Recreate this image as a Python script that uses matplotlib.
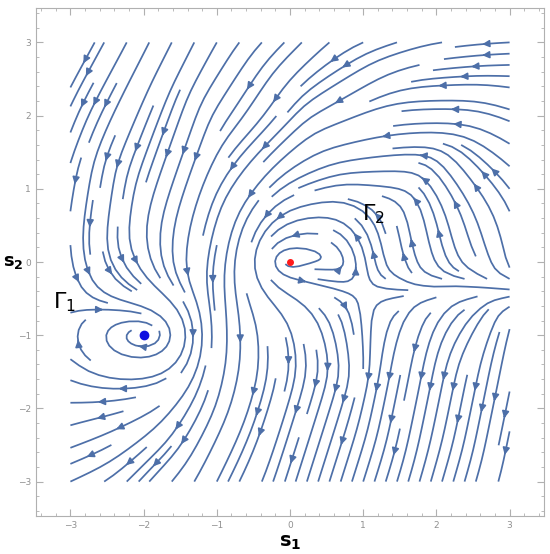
import numpy as np
import matplotlib.pyplot as plt
from matplotlib.ticker import MultipleLocator

# fixed points: unstable focus (red), saddle, stable focus (blue)
eq_s1 = [0.0, 1.0, -2.0]
eq_s2 = [0.0, -0.4, -1.0]
eq_jac = [
    [[0.12, -1.2], [0.5, 0.12]],
    [[-1.0, 0.0], [0.0, 1.2]],
    [[-0.1, 1.2], [-0.5, -0.1]],
]
eq_rad = [0.35, 0.25, 0.5]

# flow directions: position (s1, s2), direction (d1, d2)
smp_s1 = [
    # upper left and top
    -2.8, -2.65, -2.11, -2.71, -2.84, -1.65, -1.6, -1.6, -0.32, -1.46,
    -0.78, -1.68, -0.6, 0.88, 2.27, 2.27, 1.55, 1.07,
    # right
    2.96, 2.96, 2.73, 1.95, 1.41, 1.73, 2.87, 2.18,
    # middle
    -0.78, -0.78, -0.1, 0.82, -2.59, -2.14, -2.59, -1.68,
    # bottom
    -2.8, -2.64, -2.64, -2.18, -1.5, -1.95, -0.82, -0.37, 0.18, 1.54, 2.69, 1.09,
    -2.9, -2.0, -1.0, 0.5, 2.2,
    # in between
    1.2, 0.3, 2.2, 2.2, 1.6, 2.5, 2.5, 1.6, 0.5, 0.2, -0.3, -1.0, -1.2, -0.8, -1.2, -0.6,
    -3.0, -3.0, -2.2, 3.0, 3.0, 2.9, 2.9, 0.0, -3.0, 0.0, 1.5,
    # loop round the red point
    0.3, -0.25, -0.45, -0.3, 0.3, 1.1, 0.85,
    # loop round the blue point
    -2.2, -2.75, -2.93, -2.7, -2.2, -1.7, -1.5, -1.7,
]
smp_s2 = [
    2.67, 2.37, 1.94, 0.8, 0.12, 2.85, 1.49, 0.12, 1.48, 0.8,
    0.34, 1.7, 2.38, 2.42, 2.81, 2.14, 1.8, 1.66,
    0.03, 0.44, 0.98, 0.2, 0.2, -0.93, -0.84, -0.55,
    0.16, -0.75, -0.52, -0.75, 0.67, -0.25, -0.38, -0.47,
    -1.57, -2.56, -2.06, -1.75, -2.16, -2.84, -2.39, -1.93, -1.93, -2.16, -2.16, -2.84,
    -3.0, -3.0, -3.0, -3.0, -3.0,
    1.2, 1.0, 1.0, 0.5, -0.2, -0.2, -0.6, -0.6, -0.55, -1.0, -1.2, -1.6, -1.0, -0.2, 0.3, 1.0,
    -0.3, -2.5, -2.4, -2.0, 2.8, 2.0, 1.5, -2.5, 1.8, 3.0, 3.0,
    0.55, 0.42, 0.05, -0.28, -0.36, 0.05, 0.45,
    -0.63, -0.75, -1.05, -1.35, -1.47, -1.35, -1.05, -0.72,
]
smp_d1 = [
    -0.48, -0.48, -0.41, -0.2, 0.03, -0.45, -0.33, 0.0, -0.71, -0.32,
    -0.45, -0.32, -0.54, -0.85, -0.99, -1.0, -1.0, -0.96,
    -0.05, -0.3, -0.6, -0.15, -0.1, -0.15, -0.15, -0.6,
    -0.1, 0.0, 0.7, 0.05, -0.1, 0.4, 0.5, 0.5,
    -1.0, -0.9, -0.98, -0.98, -0.5, -0.75, -0.42, -0.29, -0.3, -0.2, -0.2, -0.3,
    -0.89, -0.55, -0.45, -0.3, -0.28,
    -1.0, -0.9, -0.6, -0.2, -0.5, -0.6, -0.6, -0.5, 0.5, 0.15, 0.0, -0.2, 0.05, -0.05, -0.2, -0.55,
    0.2, -0.95, -0.8, -0.2, -1.0, -0.95, -0.8, -0.3, -0.35, -0.7, -0.95,
    -1.0, -0.75, 0.0, 0.75, 1.0, 0.0, -0.75,
    1.0, 0.8, 0.05, -0.8, -1.0, -0.8, -0.05, 0.8,
]
smp_d2 = [
    -0.88, -0.88, -0.91, -0.98, -1.0, -0.89, -0.94, -1.0, -0.71, -0.95,
    -0.89, -0.95, -0.84, -0.53, -0.12, 0.0, -0.05, -0.3,
    1.0, 0.95, 0.8, 0.99, 1.0, -0.99, -0.99, -0.8,
    -1.0, -1.0, -0.7, -1.0, -1.0, -0.9, -0.87, -0.85,
    0.2, -0.43, -0.17, -0.21, -0.87, -0.65, -0.91, -0.96, -0.95, -0.98, -0.98, -0.95,
    -0.45, -0.83, -0.9, -0.95, -0.96,
    0.05, -0.4, 0.8, 0.98, 0.87, 0.8, -0.8, -0.87, -0.87, -1.0, -1.0, -0.98, -1.0, -1.0, -0.98, -0.83,
    -0.98, -0.3, -0.6, -0.98, -0.05, 0.3, 0.6, -0.95, -0.94, -0.7, -0.3,
    0.0, -0.65, -1.0, -0.65, 0.0, 1.0, 0.65,
    -0.05, 0.6, 1.0, 0.55, 0.05, -0.6, -1.0, -0.6,
]
assert len(smp_s1) == len(smp_s2) == len(smp_d1) == len(smp_d2)

# directions hugging the horizontal separatrix s2 = -0.4 (right of the saddle)
sep_s1 = [1.4, 1.9, 2.4, 2.9, 1.4, 1.9, 2.4, 2.9, 0.55, 0.55]
sep_s2 = [-0.32, -0.32, -0.32, -0.32, -0.48, -0.48, -0.48, -0.48, -0.33, -0.5]
sep_d1 = [-0.95, -0.95, -0.95, -0.95, -0.95, -0.95, -0.95, -0.95, 1.0, 0.8]
sep_d2 = [0.3, 0.3, 0.3, 0.3, -0.3, -0.3, -0.3, -0.3, 0.0, -0.6]

ticks = [-3, -2, -1, 0, 1, 2, 3]

xs = np.linspace(-3, 3, 260)
ys = np.linspace(-3, 3, 260)
X, Y = np.meshgrid(xs, ys)


def blend(px, py, dx, dy, sig, amp):
    num_u = np.zeros_like(X)
    num_v = np.zeros_like(X)
    den = np.zeros_like(X)
    for x, y, a, b in zip(px, py, dx, dy):
        n = np.hypot(a, b)
        w = amp * np.exp(-((X - x)**2 + (Y - y)**2) / sig**2)
        num_u += w * a / n
        num_v += w * b / n
        den += w
    return num_u, num_v, den


u1, v1, d1 = blend(smp_s1, smp_s2, smp_d1, smp_d2, 0.45, 1.0)
u2, v2, d2 = blend(sep_s1, sep_s2, sep_d1, sep_d2, 0.17, 4.0)
U = (u1 + u2) / (d1 + d2 + 1e-6)
V = (v1 + v2) / (d1 + d2 + 1e-6)

# near the fixed points the linearised flow takes over
W = np.zeros_like(X)
LU = np.zeros_like(X)
LV = np.zeros_like(X)
for ex, ey, J, r in zip(eq_s1, eq_s2, eq_jac, eq_rad):
    w = np.exp(-((X - ex)**2 + (Y - ey)**2) / r**2)
    LU += w * (J[0][0] * (X - ex) + J[0][1] * (Y - ey)) / r
    LV += w * (J[1][0] * (X - ex) + J[1][1] * (Y - ey)) / r
    W += w
W = np.clip(W, 0, 1)
U = (1 - W) * U + LU
V = (1 - W) * V + LV

fig = plt.figure(figsize=(5.5, 5.54), dpi=100)
ax = fig.add_axes([36 / 550, 38 / 554, 508 / 550, 508 / 554])
opts = dict(density=1.35, color='#4d6fa8', linewidth=1.25, arrowsize=1.0,
            arrowstyle='-|>')
try:
    ax.streamplot(xs, ys, U, V, num_arrows=2, **opts)
except TypeError:
    ax.streamplot(xs, ys, U, V, **opts)
ax.plot(eq_s1[0], eq_s2[0], 'o', color='#ff1a1a', ms=4, zorder=5)
ax.plot(eq_s1[2], eq_s2[2], 'o', color='#1010e0', ms=6, zorder=5)

ax.text(-3.24, -0.63, r'$\Gamma_1$', fontsize=16, ha='left', va='baseline')
ax.text(0.99, 0.57, r'$\Gamma_2$', fontsize=16, ha='left', va='baseline')

ax.set_xlim(-3.47, 3.47)
ax.set_ylim(-3.47, 3.47)
ax.set_xticks(ticks)
ax.set_yticks(ticks)
ax.xaxis.set_minor_locator(MultipleLocator(0.2))
ax.yaxis.set_minor_locator(MultipleLocator(0.2))
ax.tick_params(which='both', direction='in', top=True, right=True,
               color='#b0b0b0', labelcolor='#909090', labelsize=6.5)
ax.tick_params(which='major', length=5)
ax.tick_params(which='minor', length=2.5)
for sp in ax.spines.values():
    sp.set_color('#b0b0b0')

fig.text(290 / 550, 1 - 543 / 554, r'$\mathbf{s}_{\mathbf{1}}$', fontsize=14,
         ha='center', va='center')
fig.text(13 / 550, 1 - 262 / 554, r'$\mathbf{s}_{\mathbf{2}}$', fontsize=13,
         ha='center', va='center')

fig.savefig('out.png', dpi=100)
